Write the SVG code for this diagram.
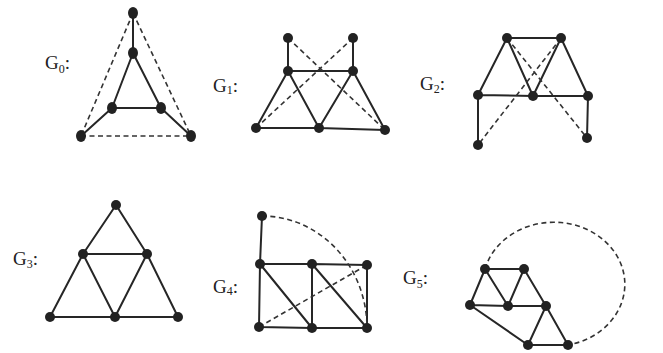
<svg xmlns="http://www.w3.org/2000/svg" width="663" height="353" viewBox="0 0 663 353">
<style>
.e{stroke:#262626;stroke-width:2;fill:none;stroke-linecap:round}
.d{stroke:#333;stroke-width:1.6;fill:none;stroke-dasharray:5 3.5}
.n{fill:#222}
.l{font-family:"Liberation Serif","Times New Roman",serif;font-size:19px;fill:#222}
.s{font-size:12px}
</style>
<rect width="663" height="353" fill="#fff"/>
<g id="connectors">
<!-- G0 -->
<path class="e" d="M133,13L133,53M133,53L112,108M133,53L161,108M112,108L161,108M112,108L81,136M161,108L191,136"/>
<path class="d" d="M133,13L81,136M133,13L191,136M81,136L191,136"/>
<!-- G1 -->
<path class="e" d="M288,38L288,71M353,38L353,71M288,71L353,71M288,71L256,128M288,71L319,128M353,71L319,128M353,71L385,130M256,128L319,128M319,128L385,130"/>
<path class="d" d="M288,38L385,130M353,38L256,128"/>
<!-- G2 -->
<path class="e" d="M507,38L561,38M507,38L478,95M507,38L533,96M561,38L533,96M561,38L588,96M478,95L533,96M533,96L588,96M478,95L478,145M588,96L587,138"/>
<path class="d" d="M507,38L587,138M561,38L478,145"/>
<!-- G3 -->
<path class="e" d="M116,205L83,254M116,205L147,254M83,254L147,254M83,254L50,317M83,254L115,317M147,254L115,317M147,254L178,317M50,317L115,317M115,317L178,317"/>
<!-- G4 -->
<path class="e" d="M262,216L260,264M260,264L312,264M312,264L367,265M260,264L259,327M312,264L312,328M367,265L367,328M259,327L312,328M312,328L367,328M260,264L312,328M312,264L367,328"/>
<path class="d" d="M259,327L367,265M262,216A105,112 0 0 1 367,328"/>
<!-- G5 -->
<path class="e" d="M485,269L524,269M485,269L470,305M485,269L508,306M524,269L508,306M524,269L546,306M470,305L508,306M508,306L546,306M470,305L528,345M546,306L528,345M546,306L568,345M528,345L568,345"/>
<path class="d" d="M485,269A71,62 0 1 1 568,345"/>
</g>
<g id="G0">
<text class="l" x="45" y="69">G<tspan class="s" dy="4">0</tspan><tspan dy="-4">:</tspan></text>
<ellipse class="n" cx="133" cy="13" rx="5" ry="6"/><ellipse class="n" cx="133" cy="53" rx="5" ry="6"/><ellipse class="n" cx="112" cy="108" rx="5" ry="6"/><ellipse class="n" cx="161" cy="108" rx="5" ry="6"/><ellipse class="n" cx="81" cy="136" rx="5" ry="6"/><ellipse class="n" cx="191" cy="136" rx="5" ry="6"/>
</g>
<g id="G1">
<text class="l" x="213" y="92">G<tspan class="s" dy="2">1</tspan><tspan dy="-2">:</tspan></text>
<circle class="n" cx="288" cy="38" r="5"/><circle class="n" cx="353" cy="38" r="5"/><circle class="n" cx="288" cy="71" r="5"/><circle class="n" cx="353" cy="71" r="5"/><circle class="n" cx="256" cy="128" r="5"/><circle class="n" cx="319" cy="128" r="5"/><circle class="n" cx="385" cy="130" r="5"/>
</g>
<g id="G2">
<text class="l" x="420" y="90">G<tspan class="s" dy="3">2</tspan><tspan dy="-3">:</tspan></text>
<circle class="n" cx="507" cy="38" r="5"/><circle class="n" cx="561" cy="38" r="5"/><circle class="n" cx="478" cy="95" r="5"/><circle class="n" cx="533" cy="96" r="5"/><circle class="n" cx="588" cy="96" r="5"/><circle class="n" cx="478" cy="145" r="5"/><circle class="n" cx="587" cy="138" r="5"/>
</g>
<g id="G3">
<text class="l" x="13" y="265">G<tspan class="s" dy="3">3</tspan><tspan dy="-3">:</tspan></text>
<circle class="n" cx="116" cy="205" r="5"/><circle class="n" cx="83" cy="254" r="5"/><circle class="n" cx="147" cy="254" r="5"/><circle class="n" cx="50" cy="317" r="5"/><circle class="n" cx="115" cy="317" r="5"/><circle class="n" cx="178" cy="317" r="5"/>
</g>
<g id="G4">
<text class="l" x="213" y="293">G<tspan class="s" dy="2">4</tspan><tspan dy="-2">:</tspan></text>
<circle class="n" cx="262" cy="216" r="5"/><circle class="n" cx="260" cy="264" r="5"/><circle class="n" cx="312" cy="264" r="5"/><circle class="n" cx="367" cy="265" r="5"/><circle class="n" cx="259" cy="327" r="5"/><circle class="n" cx="312" cy="328" r="5"/><circle class="n" cx="367" cy="328" r="5"/>
</g>
<g id="G5">
<text class="l" x="403" y="284">G<tspan class="s" dy="4">5</tspan><tspan dy="-4">:</tspan></text>
<circle class="n" cx="485" cy="269" r="5"/><circle class="n" cx="524" cy="269" r="5"/><circle class="n" cx="470" cy="305" r="5"/><circle class="n" cx="508" cy="306" r="5"/><circle class="n" cx="546" cy="306" r="5"/><circle class="n" cx="528" cy="345" r="5"/><circle class="n" cx="568" cy="345" r="5"/>
</g>
</svg>
